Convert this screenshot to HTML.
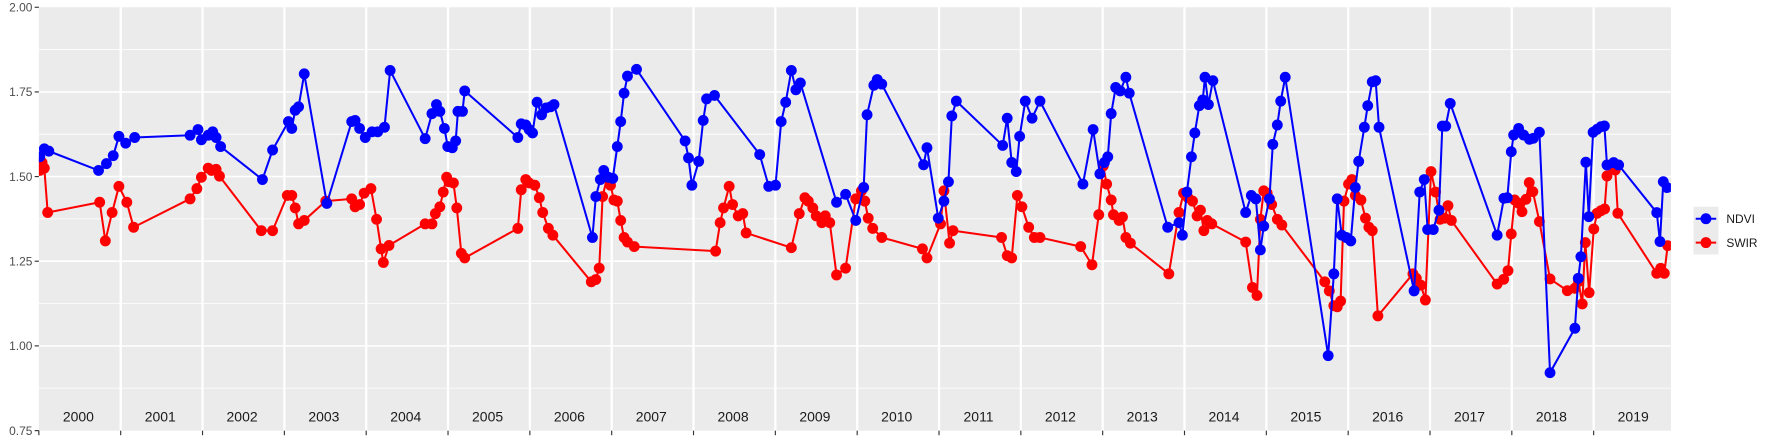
<!DOCTYPE html>
<html><head><meta charset="utf-8"><style>html,body{margin:0;padding:0;background:#fff}svg{display:block}</style></head>
<body>
<svg width="1773" height="442" viewBox="0 0 1560 389" preserveAspectRatio="none" xmlns="http://www.w3.org/2000/svg" font-family="Liberation Sans, sans-serif">
<defs>
<marker id="mb" markerUnits="userSpaceOnUse" markerWidth="12" markerHeight="12" refX="6" refY="6"><circle cx="6" cy="6" r="4.8" fill="#0000ff"/></marker>
<marker id="mr" markerUnits="userSpaceOnUse" markerWidth="12" markerHeight="12" refX="6" refY="6"><circle cx="6" cy="6" r="4.8" fill="#ff0000"/></marker>
<clipPath id="cp"><rect x="34.2" y="6.4" width="1436" height="372.6"/></clipPath>
</defs>
<rect x="34.2" y="6.4" width="1436" height="372.6" fill="#ebebeb"/>
<g stroke="#fff" stroke-width="0.7">
<line x1="34.2" x2="1470" y1="43.6" y2="43.6"/><line x1="34.2" x2="1470" y1="118.1" y2="118.1"/><line x1="34.2" x2="1470" y1="192.6" y2="192.6"/><line x1="34.2" x2="1470" y1="267.1" y2="267.1"/><line x1="34.2" x2="1470" y1="341.6" y2="341.6"/>
</g>
<g stroke="#fff" stroke-width="1.4">
<line x1="34.2" x2="1470" y1="80.9" y2="80.9"/><line x1="34.2" x2="1470" y1="155.4" y2="155.4"/><line x1="34.2" x2="1470" y1="229.9" y2="229.9"/><line x1="34.2" x2="1470" y1="304.4" y2="304.4"/>
</g>
<g stroke="#fff" stroke-width="2">
<line x1="106.2" x2="106.2" y1="6.4" y2="379"/><line x1="178.2" x2="178.2" y1="6.4" y2="379"/><line x1="250.2" x2="250.2" y1="6.4" y2="379"/><line x1="322.2" x2="322.2" y1="6.4" y2="379"/><line x1="394.2" x2="394.2" y1="6.4" y2="379"/><line x1="466.2" x2="466.2" y1="6.4" y2="379"/><line x1="538.2" x2="538.2" y1="6.4" y2="379"/><line x1="610.2" x2="610.2" y1="6.4" y2="379"/><line x1="682.2" x2="682.2" y1="6.4" y2="379"/><line x1="754.2" x2="754.2" y1="6.4" y2="379"/><line x1="826.2" x2="826.2" y1="6.4" y2="379"/><line x1="898.2" x2="898.2" y1="6.4" y2="379"/><line x1="970.2" x2="970.2" y1="6.4" y2="379"/><line x1="1042.2" x2="1042.2" y1="6.4" y2="379"/><line x1="1114.2" x2="1114.2" y1="6.4" y2="379"/><line x1="1186.2" x2="1186.2" y1="6.4" y2="379"/><line x1="1258.2" x2="1258.2" y1="6.4" y2="379"/><line x1="1330.2" x2="1330.2" y1="6.4" y2="379"/><line x1="1402.2" x2="1402.2" y1="6.4" y2="379"/>
</g>
<g stroke="#333" stroke-width="1">
<line x1="30.5" x2="34.2" y1="6.4" y2="6.4"/><line x1="30.5" x2="34.2" y1="80.9" y2="80.9"/><line x1="30.5" x2="34.2" y1="155.4" y2="155.4"/><line x1="30.5" x2="34.2" y1="229.9" y2="229.9"/><line x1="30.5" x2="34.2" y1="304.4" y2="304.4"/><line x1="30.5" x2="34.2" y1="379" y2="379"/>
<line x1="34.2" x2="34.2" y1="379" y2="383"/><line x1="106.2" x2="106.2" y1="379" y2="383"/><line x1="178.2" x2="178.2" y1="379" y2="383"/><line x1="250.2" x2="250.2" y1="379" y2="383"/><line x1="322.2" x2="322.2" y1="379" y2="383"/><line x1="394.2" x2="394.2" y1="379" y2="383"/><line x1="466.2" x2="466.2" y1="379" y2="383"/><line x1="538.2" x2="538.2" y1="379" y2="383"/><line x1="610.2" x2="610.2" y1="379" y2="383"/><line x1="682.2" x2="682.2" y1="379" y2="383"/><line x1="754.2" x2="754.2" y1="379" y2="383"/><line x1="826.2" x2="826.2" y1="379" y2="383"/><line x1="898.2" x2="898.2" y1="379" y2="383"/><line x1="970.2" x2="970.2" y1="379" y2="383"/><line x1="1042.2" x2="1042.2" y1="379" y2="383"/><line x1="1114.2" x2="1114.2" y1="379" y2="383"/><line x1="1186.2" x2="1186.2" y1="379" y2="383"/><line x1="1258.2" x2="1258.2" y1="379" y2="383"/><line x1="1330.2" x2="1330.2" y1="379" y2="383"/><line x1="1402.2" x2="1402.2" y1="379" y2="383"/>
</g>
<g fill="#4d4d4d" font-size="10.5" text-anchor="end">
<text x="28.5" y="10.2">2.00</text><text x="28.5" y="84.7">1.75</text><text x="28.5" y="159.2">1.50</text><text x="28.5" y="233.7">1.25</text><text x="28.5" y="308.2">1.00</text><text x="28.5" y="382.8">0.75</text>
</g>
<g fill="#1a1a1a" font-size="12.3" text-anchor="middle">
<text x="69" y="371">2000</text><text x="141" y="371">2001</text><text x="213" y="371">2002</text><text x="285" y="371">2003</text><text x="357" y="371">2004</text><text x="429" y="371">2005</text><text x="501" y="371">2006</text><text x="573" y="371">2007</text><text x="645" y="371">2008</text><text x="717" y="371">2009</text><text x="789" y="371">2010</text><text x="861" y="371">2011</text><text x="933" y="371">2012</text><text x="1005" y="371">2013</text><text x="1077" y="371">2014</text><text x="1149" y="371">2015</text><text x="1221" y="371">2016</text><text x="1293" y="371">2017</text><text x="1365" y="371">2018</text><text x="1437" y="371">2019</text>
</g>
<g clip-path="url(#cp)">
<g transform="translate(35,0) scale(0.9944,1) translate(-35,0)" fill="none" stroke-width="1.8" stroke-linejoin="round">
<polyline stroke="#ff0000" marker-start="url(#mr)" marker-mid="url(#mr)" marker-end="url(#mr)" points="35,150 37,143 39,148 42,187 88,178 93,212 99,187 105,164 112,178 118,200 168,175 174,166 178,156 184,148 187,150 191,149 194,155 231,203 241,203 254,172 258,172 261,183 264,197 269,194 288,177 311,175 314,182 318,180 322,170 328,166 333,193 337,219 339,231 344,216 376,197 382,197 385,188 389,182 392,169 395,156 397,160 401,161 404,183 408,223 411,227 458,201 461,167 465,158 468,161 473,163 477,174 480,187 485,201 489,207 523,248 527,246 530,236 533,173 537,156 540,163 543,176 546,177 549,194 552,209 555,213 561,217 633,221 637,196 640,183 645,164 648,180 653,190 657,188 660,205 700,218 707,188 712,174 715,177 719,183 722,190 727,196 730,190 734,196 740,242 748,236 757,175 762,168 765,177 768,192 772,201 780,209 816,219 820,227 832,197 835,168 840,214 843,203 886,209 891,225 895,227 900,172 904,182 910,200 915,209 920,209 956,217 966,233 972,189 976,146 979,162 983,176 985,189 990,194 993,191 996,209 1000,214 1034,241 1043,187 1047,170 1051,174 1055,177 1059,190 1062,185 1065,203 1068,194 1072,197 1102,213 1108,253 1112,260 1115,193 1118,168 1121,170 1125,180 1130,193 1134,198 1172,248 1176,256 1180,269 1183,270 1186,265 1189,177 1193,162 1196,158 1199,172 1204,176 1208,192 1211,200 1214,203 1219,278 1250,241 1253,245 1257,251 1261,264 1266,151 1270,169 1274,193 1278,192 1281,181 1284,194 1324.5,250 1330.3,245.8 1334.1,238.2 1337,205.9 1340,176 1343.5,178.9 1346.5,186.3 1350,175.4 1352.9,160.7 1356.1,168.7 1361.9,195 1371.3,245.5 1386.6,255.8 1393.3,253.7 1396.5,247.8 1399.8,267.5 1402.5,213.5 1405.9,257.5 1410,201.5 1412.9,187.7 1416.4,185.4 1419.6,183.9 1421.7,154.9 1425.5,145.2 1429,149.6 1431.3,187.7 1465.7,240.5 1469.2,236.1 1472.4,240.5 1475.4,216.2"/>
<polyline stroke="#0000ff" marker-start="url(#mb)" marker-mid="url(#mb)" marker-end="url(#mb)" points="35,138 39,131 43,133 87,150 94,144 100,137 105,120 111,126 119,121 168,119 175,114 178,123 184,119 188,116 191,121 195,129 232,158 241,132 255,107 258,113 261,97 264,94 269,65 289,179 311,107 314,106 318,113 323,121 329,116 334,116 340,112 345,62 376,122 382,100 386,92 389,98 393,113 396,129 400,130 403,124 405,98 409,98 411,80 458,121 461,109 465,110 468,114 471,117 475,90 479,101 483,95 487,94 490,92 524,209 527,173 531,158 534,150 538,156 542,157 546,129 549,107 552,82 555,67 563,61 606,124 609,139 612,163 618,142 622,106 625,87 632,84 672,136 680,164 686,163 691,107 695,90 700,62 704,79 708,73 740,178 748,171 757,194 764,165 767,101 773,75 776,70 780,74 817,145 820,130 830,192 835,177 839,160 842,102 846,89 887,128 891,104 895,143 899,151 902,120 907,89 913,104 920,89 958,162 967,114 973,153 977,143 980,138 983,100 987,77 991,80 996,68 999,82 1033,200 1043,196 1046,207 1050,169 1054,138 1057,117 1061,93 1064,88 1066,68 1069,92 1073,71 1102,187 1107,172 1111,175 1115,220 1118,199 1123,175 1126,127 1130,110 1133,89 1137,68 1175,313 1180,241 1183,175 1187,207 1191,209 1195,212 1199,165 1202,142 1207,112 1210,93 1214,72 1217,71 1220,112 1251,256 1256,169 1260,158 1263,202 1268,202 1273,185 1276,111 1279,111 1283,91 1324.5,207 1330.5,174.5 1333.5,174 1337,133.5 1339.1,118.8 1343.5,113 1347.9,118.8 1353.1,122.6 1356.5,121.7 1361.9,116.4 1371.3,328 1393.3,288.9 1396.3,244.9 1398.6,225.9 1403,142.8 1405.6,190.7 1409.4,116.4 1412.9,113.8 1416.4,111.5 1419.4,110.9 1421.7,145.2 1427.6,143.1 1432,145.2 1465.7,187.1 1468.6,212.6 1471.5,159.9 1475,165.1"/>
</g>
</g>
<rect x="1490" y="182" width="22" height="42" fill="#ebebeb"/>
<line x1="1492" x2="1510" y1="192.5" y2="192.5" stroke="#0000ff" stroke-width="1.8"/><circle cx="1501" cy="192.5" r="4.8" fill="#0000ff"/>
<line x1="1492" x2="1510" y1="213.5" y2="213.5" stroke="#ff0000" stroke-width="1.8"/><circle cx="1501" cy="213.5" r="4.8" fill="#ff0000"/>
<g fill="#1a1a1a" font-size="10.5"><text x="1519" y="196.3">NDVI</text><text x="1519" y="217.3">SWIR</text></g>
</svg>
</body></html>
